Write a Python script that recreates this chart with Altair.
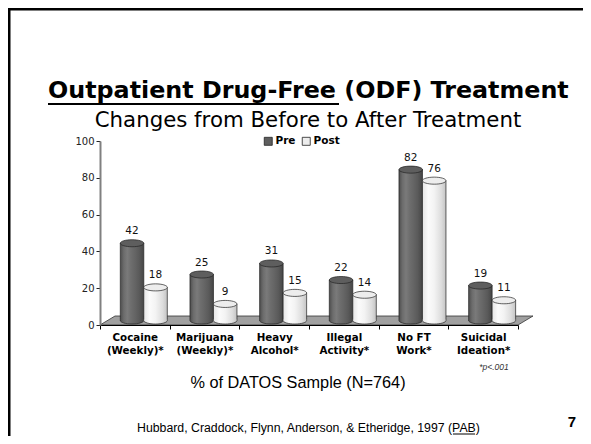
import altair as alt
import pandas as pd

categories = ["Cocaine|(Weekly)*", "Marijuana|(Weekly)*", "Heavy|Alcohol*",
              "Illegal|Activity*", "No FT|Work*", "Suicidal|Ideation*"]
series = ["Pre", "Post"]
pre_values = [42, 25, 31, 22, 82, 19]
post_values = [18, 9, 15, 14, 76, 11]
y_ticks = [0, 20, 40, 60, 80, 100]

rows = []
for c, a, b in zip(categories, pre_values, post_values):
    rows.append({"cat": c, "series": "Pre", "value": a})
    rows.append({"cat": c, "series": "Post", "value": b})
df = pd.DataFrame(rows)
one = pd.DataFrame({"k": [0]})

W, H = 418, 184
DEPTH_Y = -4.5
ELL_SIZE = 552

def grad(stops):
    return alt.Gradient(gradient="linear", x1=0, x2=1, y1=0, y2=0,
                        stops=[alt.GradientStop(color=c, offset=o) for o, c in stops])

body_grad = {
    "Pre": grad([(0, "#4e4e4e"), (0.15, "#6c6c6c"), (0.3, "#7a7a7a"), (0.45, "#6e6e6e"),
                 (0.6, "#666666"), (0.8, "#5a5a5a"), (1, "#464646")]),
    "Post": grad([(0, "#e6e6e6"), (0.25, "#fbfbfb"), (0.5, "#f3f3f3"),
                  (0.8, "#dddddd"), (1, "#c4c4c4")]),
}

x_axis = alt.Axis(title=None, labelAngle=0, tickBand="extent",
                  labelExpr="split(datum.label, '|')",
                  labelFont="DejaVu Sans", labelFontWeight="bold",
                  labelFontSize=10.3, labelColor="black", labelPadding=3,
                  labelLineHeight=13.5, domainColor="black", domainWidth=1,
                  tickColor="black", tickSize=4, zindex=1)
y_axis = alt.Axis(title=None, values=y_ticks, grid=False,
                  labelFont="DejaVu Sans", labelFontSize=10,
                  labelColor="#222222", labelPadding=2,
                  domainColor="#808080", domainWidth=2,
                  tickColor="#222222", tickSize=4, zindex=1)

x_scale = alt.Scale(type="band", paddingInner=0, paddingOuter=0)
y_scale = alt.Scale(domain=[0, 100])
x_enc = alt.X("cat:N", sort=categories, scale=x_scale, axis=x_axis)
xo_enc = alt.XOffset("series:N", sort=series,
                     scale=alt.Scale(type="band", range=[20.3, 67.3], paddingInner=0, paddingOuter=0))
y_enc = alt.Y("value:Q", scale=y_scale, axis=y_axis)
y_zero = alt.Y(datum=0, scale=y_scale, axis=y_axis)

base = alt.Chart(df)
deco = alt.Chart(one)

# slide border
border = deco.mark_rect(fillOpacity=0, stroke="black", strokeWidth=3).encode(
    x=alt.value(-91), x2=alt.value(700), y=alt.value(-132), y2=alt.value(600))

# 3D floor
floor = deco.mark_point(shape="M 0 0 L 418 0 L 433 -9 L 15 -9 Z", size=4, filled=True,
                        fill="#a0a0a0", stroke="#333333", strokeWidth=0.8, opacity=1).encode(
    x=alt.value(0), y=alt.value(H))

layers = [border, floor]
for s in series:
    sub = base.transform_filter(alt.datum.series == s)
    body = sub.mark_bar(fill=body_grad[s], stroke="#222222", strokeWidth=0.7,
                        yOffset=DEPTH_Y, y2Offset=DEPTH_Y).encode(
        x=x_enc, xOffset=xo_enc, y=y_enc)
    bottom = sub.mark_point(shape="M -1 -0.06 L 1 -0.06 L 1 0 A 1 0.3 0 0 1 -1 0 Z",
                            size=ELL_SIZE, filled=True, fill=body_grad[s],
                            strokeWidth=0, opacity=1, yOffset=DEPTH_Y).encode(
        x=x_enc, xOffset=xo_enc, y=y_zero)
    bottom_arc = sub.mark_point(shape="M -1 0 A 1 0.3 0 0 0 1 0", size=ELL_SIZE,
                                filled=False, stroke="#222222", strokeWidth=0.7,
                                opacity=1, yOffset=DEPTH_Y).encode(
        x=x_enc, xOffset=xo_enc, y=y_zero)
    layers += [body, bottom, bottom_arc]

tops = base.mark_point(shape="M -1 0 A 1 0.3 0 1 1 1 0 A 1 0.3 0 1 1 -1 0 Z",
                       size=ELL_SIZE, filled=True, stroke="#222222", strokeWidth=0.7,
                       opacity=1, yOffset=DEPTH_Y).encode(
    x=x_enc, xOffset=xo_enc, y=y_enc,
    fill=alt.Fill("series:N", sort=series,
                  scale=alt.Scale(domain=series, range=["#5e5e5e", "#ededed"]),
                  legend=alt.Legend(orient="none", legendX=163, legendY=-5,
                                    direction="horizontal", title=None,
                                    symbolType="square", symbolSize=64,
                                    symbolStrokeColor="#222222", symbolStrokeWidth=0.8,
                                    labelFont="DejaVu Sans", labelFontWeight="bold",
                                    labelFontSize=10.5, labelColor="black",
                                    labelOffset=2, columnPadding=4, padding=0)))

labels = base.mark_text(font="DejaVu Sans", fontSize=10.5, color="#111111",
                        dy=-12, yOffset=DEPTH_Y, baseline="middle").encode(
    x=x_enc, xOffset=xo_enc, y=y_enc, text=alt.Text("value:Q"))

layers += [tops, labels]

def txt(text, x, y, size, font="Liberation Sans", weight="normal", style="normal",
        align="center", color="black"):
    return deco.mark_text(text=text, font=font, fontSize=size, fontWeight=weight,
                          fontStyle=style, align=align, baseline="middle",
                          color=color).encode(x=alt.value(x), y=alt.value(y))

def uline(x1, x2, y, w=1.5):
    return deco.mark_rule(color="black", strokeWidth=w).encode(
        x=alt.value(x1), x2=alt.value(x2), y=alt.value(y))

title_main = "Outpatient Drug-Free (ODF) Treatment"
subtitle = "Changes from Before to After Treatment"
xlabel = "% of DATOS Sample (N=764)"
pnote = "*p<.001"
footnote = "Hubbard, Craddock, Flynn, Anderson, & Etheridge, 1997 (PAB)"
page_no = "7"

layers += [
    txt(title_main, -52, -50, 23.8, font="DejaVu Sans", weight="bold", align="left"),
    uline(-52, 239, -37, 2),
    txt(subtitle, 208, -20, 21.3, font="DejaVu Sans"),
    txt(pnote, 394, 226, 8.5, style="italic", color="#333333"),
    txt(xlabel, 198, 242, 16.3),
    txt(footnote, 37, 286.5, 12.3, align="left"),
    uline(353, 375, 293, 1),
    txt(page_no, 472, 281, 15, weight="bold"),
]

chart = alt.layer(*layers).properties(
    width=W, height=H,
    autosize=alt.AutoSizeParams(type="none"),
    padding={"left": 92, "top": 133, "right": 65, "bottom": 111},
).configure_view(stroke=None)

chart.save("out.html", embed_options={"renderer": "svg", "actions": False})
